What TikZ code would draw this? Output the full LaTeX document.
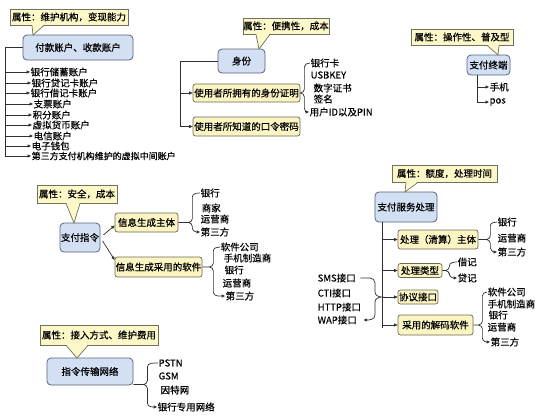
\documentclass[tikz,border=0pt]{standalone}
\usepackage{fontspec}
\setmainfont{Noto Sans CJK SC}[FakeBold=0.5]
\usetikzlibrary{arrows.meta,calc}
\definecolor{bluefill}{HTML}{D3DFF2}
\definecolor{blueline}{HTML}{55657F}
\definecolor{yelfill}{HTML}{FBF4C3}
\definecolor{yelline}{HTML}{6E6A55}
\definecolor{calfill}{HTML}{FDF8C8}
\definecolor{calline}{HTML}{707060}
\definecolor{linec}{HTML}{303030}
\newcommand\calltail[4]{%
  \fill[calfill] let \p1=(#1.south), \p2=(#2,0), \p3=(#3,0) in (\x2,\y1+0.9pt) -- #4 -- (\x3,\y1+0.9pt) -- cycle;
  \draw[calline, line width=0.7pt] let \p1=(#1.south), \p2=(#2,0), \p3=(#3,0) in (\x2,\y1) -- #4 -- (\x3,\y1);
}
\newcommand\mybrace[4]{%
  \draw[arr] let \p1=#1, \p2=(#2.west), \p3=(#3.west), \p4=($#1+(#4,0)$) in
   (\p2) to[out=180,in=90] (\x4,\y2-4pt) -- (\x4,\y1+4pt) to[out=270,in=0] (\x4-4pt,\y1) -- (\p1)
   -- (\x4-4pt,\y1) to[out=0,in=90] (\x4,\y1-4pt) -- (\x4,\y3+4pt) to[out=270,in=180] (\p3);
}
\begin{document}
\begin{tikzpicture}[x=1pt,y=-1pt, font=\fontsize{9.5}{11}\selectfont,
 bluebox/.style={draw=blueline, fill=bluefill, rounded corners=4pt, line width=0.8pt, inner sep=0pt},
 yelbox/.style={draw=yelline, fill=yelfill, rounded corners=2.5pt, line width=0.7pt, inner sep=0pt},
 calbox/.style={draw=calline, fill=calfill, line width=0.7pt, inner sep=0pt},
 item/.style={anchor=west, inner sep=0.5pt},
 conn/.style={draw=linec, line width=0.7pt},
 arr/.style={conn, -{Triangle[length=3.5pt,width=3pt]}},
]
\useasboundingbox (0,0) rectangle (539,416);
\fill[white] (0,0) rectangle (539,416);

% ---- section 1
\node[bluebox, minimum width=110pt, minimum height=25pt] (a1) at (78,47.5) {付款账户、收款账户};
\node[calbox, minimum width=118pt, minimum height=16pt] (c1) at (69,17) {属性：维护机构，变现能力};
\calltail{c1}{32}{44}{(33,35)}
\node[item] (i1) at (30,72) {银行储蓄账户};
\node[item] (i2) at (31,83) {银行贷记卡账户};
\node[item] (i3) at (30,93) {银行借记卡账户};
\node[item] (i4) at (33,104) {支票账户};
\node[item] (i5) at (32,115) {积分账户};
\node[item] (i6) at (32,125) {虚拟货币账户};
\node[item] (i7) at (33,136) {电信账户};
\node[item] (i8) at (31,146) {电子钱包};
\node[item, font=\fontsize{9}{11}\selectfont] (i9) at (31,156) {第三方支付机构维护的虚拟中间账户};
\coordinate (t1) at (5,47.5);
\draw[conn] (a1.west) -- (t1) -- (t1 |- i9.west);
\foreach \k in {1,...,9} \draw[arr] (t1 |- i\k.west) -- (i\k.west);

% ---- section 2
\node[bluebox, minimum width=47pt, minimum height=24pt] (b2) at (241.5,61) {身份};
\node[calbox, minimum width=86pt, minimum height=16pt] (c2) at (286,26) {属性：便携性，成本};
\calltail{c2}{256}{270}{(259,49)}
\node[yelbox, minimum width=107pt, minimum height=18pt] (y21) at (246.5,93) {使用者所拥有的身份证明};
\node[yelbox, minimum width=107pt, minimum height=19pt] (y22) at (246.5,126.5) {使用者所知道的口令密码};
\coordinate (t2) at (180,61);
\draw[conn] (b2.west) -- (t2) -- (t2 |- y22.west);
\draw[arr] (t2 |- y21.west) -- (y21.west);
\draw[arr] (t2 |- y22.west) -- (y22.west);
\node[item] (s1) at (310,63) {银行卡};
\node[item] (s2) at (310,75) {USBKEY};
\node[item] (s3) at (313,88) {数字证书};
\node[item] (s4) at (313,99) {签名};
\node[item] (s5) at (309,112) {用户ID以及PIN};
\mybrace{(y21.east)}{s1}{s5}{4}

% ---- section 3
\node[bluebox, minimum width=43pt, minimum height=20pt] (b3) at (488.5,65) {支付终端};
\node[calbox, minimum width=102pt, minimum height=16pt] (c3) at (462,37) {属性：操作性、普及型};
\calltail{c3}{487}{499}{(498,55)}
\node[item] (m1) at (489,87) {手机};
\node[item] (m2) at (489,102) {pos};
\coordinate (t3) at (477,75);
\draw[conn] (t3) -- (t3 |- m2.west);
\draw[arr] (t3 |- m1.west) -- (m1.west);
\draw[arr] (t3 |- m2.west) -- (m2.west);

% ---- section 4
\node[bluebox, minimum width=40pt, minimum height=29pt] (b4) at (80,237.5) {支付指令};
\node[calbox, minimum width=80pt, minimum height=18pt] (c4) at (77,194) {属性：安全，成本};
\calltail{c4}{66}{80}{(74,223)}
\node[yelbox, minimum width=63pt, minimum height=19pt] (y41) at (146.5,222.5) {信息生成主体};
\node[yelbox, minimum width=87pt, minimum height=20pt] (y42) at (158.5,267) {信息生成采用的软件};
\draw[arr, shorten <=4pt] (b4.east) -- ([yshift=-3pt]y41.west);
\draw[arr, shorten <=4pt] (b4.east) -- ([yshift=7pt]y42.west);
\node[item] (u1) at (200,193) {银行};
\node[item] (u2) at (201,208) {商家};
\node[item] (u3) at (200,219) {运营商};
\node[item] (u4) at (200,232) {第三方};
\mybrace{(y41.east)}{u1}{u4}{14}
\node[item] (v1) at (220,247) {软件公司};
\node[item] (v2) at (223,258) {手机制造商};
\node[item] (v3) at (224,270) {银行};
\node[item] (v4) at (222,283) {运营商};
\node[item] (v5) at (225,296) {第三方};
\mybrace{(y42.east)}{v1}{v5}{11}

% ---- section 5
\node[bluebox, minimum width=62pt, minimum height=30pt] (b5) at (406,207) {支付服务处理};
\node[calbox, minimum width=105pt, minimum height=17pt] (c5) at (444.5,173.5) {属性：额度，处理时间};
\calltail{c5}{406}{418}{(405,192)}
\node[yelbox, minimum width=80pt, minimum height=19pt] (p1) at (438,239.5) {处理（清算）主体};
\node[yelbox, minimum width=44pt, minimum height=14pt] (p2) at (420,270.5) {处理类型};
\node[yelbox, minimum width=40pt, minimum height=14pt] (p3) at (418,297) {协议接口};
\node[yelbox, minimum width=75pt, minimum height=20pt] (p4) at (435.5,325) {采用的解码软件};
\coordinate (t5) at (382,222);
\draw[conn] (t5) -- ([yshift=-3pt]t5 |- p4.west);
\foreach \q in {p1,p2,p3,p4} \draw[arr] (t5 |- \q.west) -- (\q.west);
\node[item] (q1) at (497,222) {银行};
\node[item] (q2) at (497,238) {运营商};
\node[item] (q3) at (497,252) {第三方};
\mybrace{(p1.east)}{q1}{q3}{12}
\node[item] (r1) at (457,262) {借记};
\node[item] (r2) at (457,278) {贷记};
\mybrace{(p2.east)}{r1}{r2}{7}
\node[item] (w1) at (487,292) {软件公司};
\node[item] (w2) at (487,304) {手机制造商};
\node[item] (w3) at (488,315) {银行};
\node[item] (w4) at (487,327) {运营商};
\node[item] (w5) at (490,342) {第三方};
\mybrace{(p4.east)}{w1}{w5}{9}
\node[item] (l1) at (317,278) {SMS接口};
\node[item] (l2) at (317,293) {CTI接口};
\node[item] (l3) at (317,307) {HTTP接口};
\node[item] (l4) at (317,320) {WAP接口};
\draw[arr] let \p1=(l1.east), \p2=(l4.east), \p3=(t5 |- p3.west) in
  ([xshift=4pt]\p1) -- (\x3-12pt,\y1) to[out=0,in=90] (\x3-7pt,\y1-5pt) -- (\x3-7pt,\y3+5pt)
  to[out=270,in=180] (\p3) to[out=180,in=90] (\x3-7pt,\y3-5pt) -- (\x3-7pt,\y2+5pt)
  to[out=270,in=0] ([xshift=6pt]\p2);

% ---- section 6
\node[bluebox, minimum width=86pt, minimum height=27pt] (b6) at (90,371.5) {指令传输网络};
\node[calbox, minimum width=118pt, minimum height=20pt] (c6) at (99,335) {属性：接入方式、维护费用};
\calltail{c6}{66}{88}{(77,358)}
\node[item] (n1) at (158,363) {PSTN};
\node[item] (n2) at (158,376) {GSM};
\node[item] (n3) at (160,390) {因特网};
\node[item] (n4) at (157,407) {银行专用网络};
\mybrace{([yshift=-13pt]b6.east)}{n1}{n4}{14}
\end{tikzpicture}
\end{document}
